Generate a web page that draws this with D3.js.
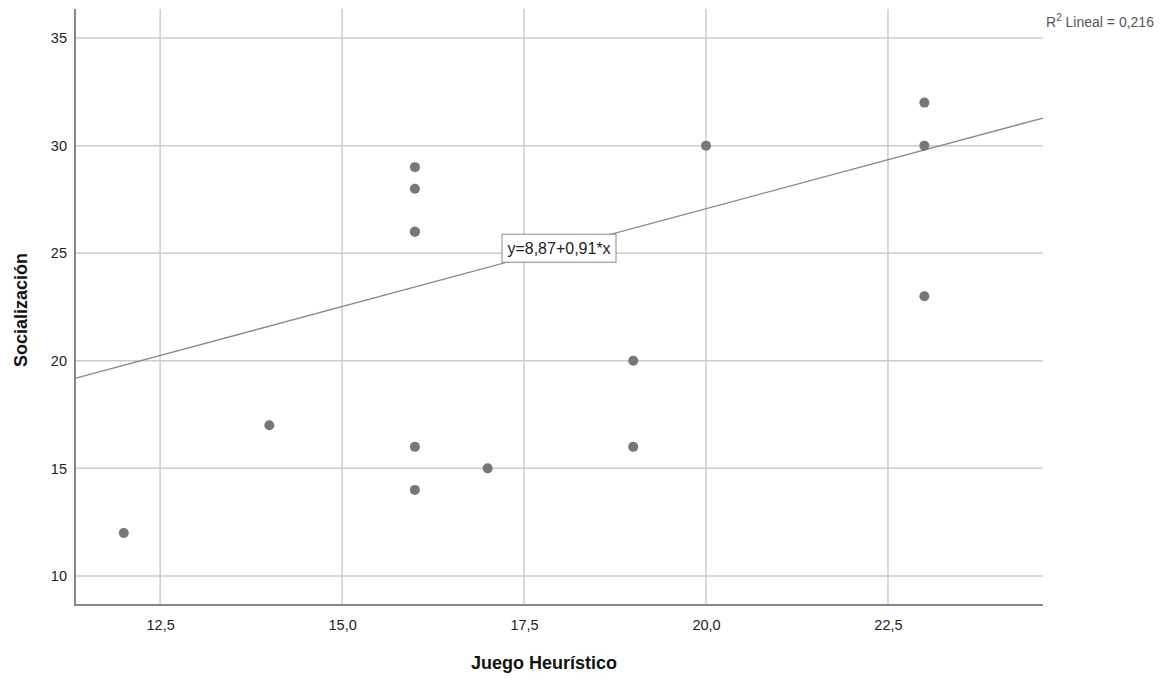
<!DOCTYPE html>
<html><head><meta charset="utf-8">
<script src="https://cdn.jsdelivr.net/npm/d3@7"></script>
<style>body{margin:0;background:#fff;font-family:"Liberation Sans",Arial,sans-serif;}</style>
</head><body><svg id="c" width="1172" height="681"></svg>
<script>
const xVals = [12, 14, 16, 16, 16, 16, 16, 16, 17, 19, 19, 20, 23, 23, 23];
const yVals = [12, 17, 29, 28, 26, 26, 16, 14, 15, 20, 16, 30, 32, 30, 23];
const xTicks = [12.5, 15.0, 17.5, 20.0, 22.5];
const yTicks = [10, 15, 20, 25, 30, 35];
const fitIntercept = 8.87, fitSlope = 0.91;
const r2Label = "0,216";
const xTitle = "Juego Heurístico", yTitle = "Socialización";

const svg = d3.select("#c");
const L = 75, R = 1043, T = 9, B = 605;
const x = d3.scaleLinear().domain([11.33, 24.63]).range([L, R]);
const y = d3.scaleLinear().domain([8.65, 36.35]).range([B, T]);
const fmt = v => d3.format(".1f")(v).replace(".", ",");

// grid
svg.append("g").selectAll("line").data(xTicks).join("line")
  .attr("x1", d => x(d)).attr("x2", d => x(d)).attr("y1", T).attr("y2", B)
  .attr("stroke", "#cccccc").attr("stroke-width", 1.5);
svg.append("g").selectAll("line").data(yTicks).join("line")
  .attr("x1", L).attr("x2", R).attr("y1", d => y(d)).attr("y2", d => y(d))
  .attr("stroke", "#cccccc").attr("stroke-width", 1.5);

// axes
const xa = svg.append("g").attr("transform", `translate(0,${B})`)
  .call(d3.axisBottom(x).tickValues(xTicks).tickFormat(fmt).tickSize(0).tickPadding(15));
const ya = svg.append("g").attr("transform", `translate(${L},0)`)
  .call(d3.axisLeft(y).tickValues(yTicks).tickSize(0).tickPadding(8));
[xa, ya].forEach(a => {
  a.select(".domain").attr("stroke", "#888888").attr("stroke-width", 2);
  a.selectAll("text").attr("font-family", "Liberation Sans, Arial, sans-serif")
    .attr("font-size", 14.5).attr("fill", "#222");
});
ya.select(".domain").attr("d", `M0,${T}V${B}`);
xa.select(".domain").attr("d", `M${L - 1},0H${R}`);

// fit line
const x0 = x.domain()[0], x1 = x.domain()[1];
svg.append("line")
  .attr("x1", x(x0)).attr("y1", y(fitIntercept + fitSlope * x0))
  .attr("x2", x(x1)).attr("y2", y(fitIntercept + fitSlope * x1))
  .attr("stroke", "#888888").attr("stroke-width", 1.3);

// points
svg.append("g").selectAll("circle").data(xVals.map((d, i) => [d, yVals[i]])).join("circle")
  .attr("cx", d => x(d[0])).attr("cy", d => y(d[1])).attr("r", 5)
  .attr("fill", "#777777");

// equation label
const lx = 17.98;
const lg = svg.append("g").attr("transform", `translate(${x(lx)},${y(fitIntercept + fitSlope * lx)})`);
lg.append("rect").attr("x", -57).attr("y", -14).attr("width", 114).attr("height", 28)
  .attr("fill", "#fff").attr("stroke", "#888").attr("stroke-width", 1);
lg.append("text").attr("text-anchor", "middle").attr("dy", 5.5).attr("font-size", 16)
  .attr("fill", "#222").text(`y=${String(fitIntercept).replace(".", ",")}+${String(fitSlope).replace(".", ",")}*x`);

// R2
const r = svg.append("text").attr("x", 1046).attr("y", 27).attr("font-size", 14).attr("fill", "#555");
r.append("tspan").text("R");
r.append("tspan").attr("font-size", 10).attr("dy", -6).text("2");
r.append("tspan").attr("dy", 6).text(" Lineal = " + r2Label);

// titles
svg.append("text").attr("x", 544).attr("y", 669).attr("text-anchor", "middle")
  .attr("font-size", 18).attr("font-weight", "bold").attr("fill", "#111").text(xTitle);
svg.append("text").attr("transform", "translate(27,310) rotate(-90)").attr("text-anchor", "middle")
  .attr("font-size", 18).attr("font-weight", "bold").attr("fill", "#111").text(yTitle);
</script></body></html>
